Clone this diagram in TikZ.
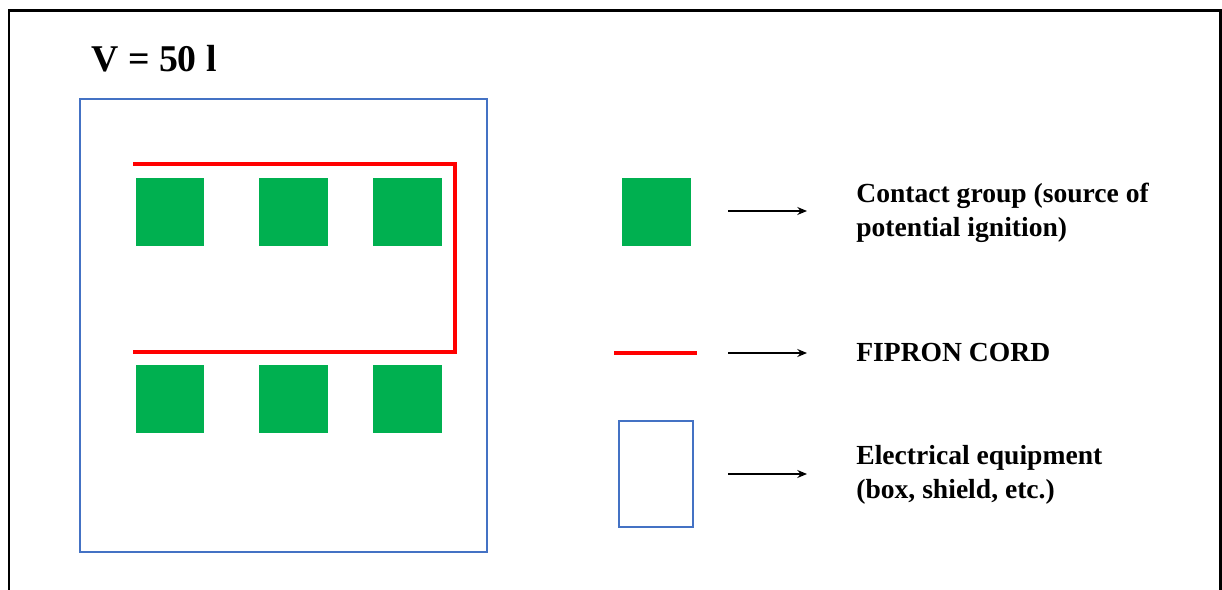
\documentclass[tikz,border=0pt]{standalone}
\usepackage{fontspec}
\setmainfont{Liberation Serif}
\usetikzlibrary{arrows.meta}
\definecolor{cgreen}{RGB}{0,176,80}
\definecolor{cblue}{RGB}{68,114,196}

\begin{document}
\begin{tikzpicture}[
x=0.02cm, y=-0.02cm,
contact/.style={fill=cgreen, draw=none, inner sep=0pt, minimum size=1.38cm}, % contact group
cord/.style={draw=red, line width=2.3pt}, % fipron cord
equip/.style={draw=cblue, line width=0.7pt}, % electrical equipment
arr/.style={-{Stealth[length=5.5pt,width=4.5pt]}, line width=0.9pt}, % legend arrows
lbl/.style={anchor=west, align=left, inner sep=0pt, font=\bfseries\fontsize{15.7}{19}\selectfont} % legend text
]

\useasboundingbox (0,0) rectangle (1222,590);
\draw[line width=1.7pt] (9,600) -- (9,11) -- (1220,11) -- (1220,600);

\node[anchor=base west, inner sep=0pt, font=\bfseries\fontsize{21.5}{26}\selectfont] (vol) at (91,72) {V = 50 l};

% the box with its contacts
\draw[equip] (80,99) rectangle (487,552);
\node[contact] (k1) at (170,212) {};
\node[contact] (k2) at (293.5,212) {};
\node[contact] (k3) at (407.5,212) {};
\node[contact] (k4) at (170,399) {};
\node[contact] (k5) at (293.5,399) {};
\node[contact] (k6) at (407.5,399) {};
\draw[cord] (133,164) -- (455,164) -- (455,352) -- (133,352);

% legend
\node[contact] (lk) at (656.5,212) {};
\draw[cord] (614,353) -- (697,353);
\draw[equip] (619,421) rectangle (693,527);

\coordinate (a1) at (728,211);
\coordinate (a2) at (728,353);
\coordinate (a3) at (728,474);
\draw[arr] (a1) -- ++(79,0);
\draw[arr] (a2) -- ++(79,0);
\draw[arr] (a3) -- ++(79,0);

\node[lbl] (l1) at (856,213) {Contact group (source of\\potential ignition)};
\node[lbl] (l2) at (856,353) {FIPRON CORD};
\node[lbl] (l3) at (856,475) {Electrical equipment\\(box, shield, etc.)};

\end{tikzpicture}
\end{document}
